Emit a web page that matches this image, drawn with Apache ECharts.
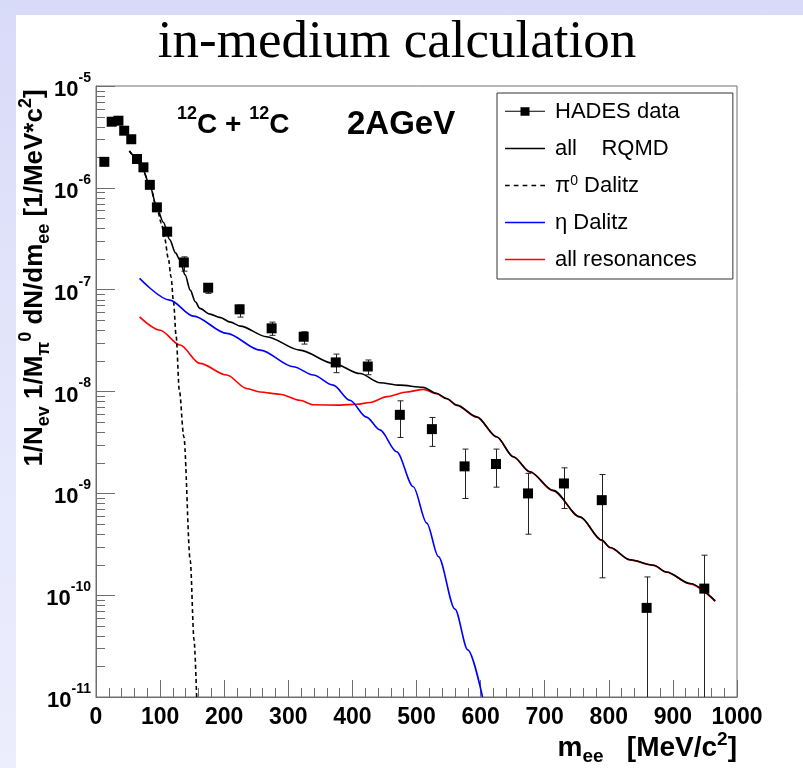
<!DOCTYPE html>
<html>
<head>
<meta charset="utf-8">
<script src="https://cdn.jsdelivr.net/npm/echarts/dist/echarts.min.js"></script>
<style>
html, body { margin: 0; padding: 0; width: 803px; height: 768px; overflow: hidden;
  background: linear-gradient(180deg, #d8dbf8 0%, #e4e6fb 50%, #eceefd 100%); }
#panel { position: absolute; left: 16px; top: 15px; right: 0; bottom: 0; background: #fff; }
#chart { position: absolute; left: 0; top: 0; width: 803px; height: 768px; }
</style>
</head>
<body>
<div id="panel"></div>
<div id="chart"></div>
<script>
// HADES dielectron spectrum, 12C + 12C at 2 AGeV (m_ee in MeV/c^2)
const hadesMass  = [13, 24.5, 35, 44, 55, 64, 74, 84, 95, 111, 137, 175, 224, 274, 324, 374, 424, 474, 524, 575, 624, 674, 730, 789, 859, 949];
const hadesYield = [1.80e-6, 4.46e-6, 4.56e-6, 3.64e-6, 3.0e-6, 1.92e-6, 1.59e-6, 1.07e-6, 6.43e-7, 3.71e-7, 1.85e-7, 1.045e-7, 6.41e-8, 4.17e-8, 3.45e-8, 1.93e-8, 1.76e-8, 5.9e-9, 4.27e-9, 1.84e-9, 1.94e-9, 9.98e-10, 1.25e-9, 8.57e-10, 7.5e-11, 1.16e-10];
const hadesHigh  = [1.86e-6, 4.6e-6, 4.7e-6, 3.75e-6, 3.1e-6, 1.98e-6, 1.64e-6, 1.11e-6, 6.7e-7, 3.9e-7, 2.1e-7, 1.135e-7, 7.06e-8, 4.8e-8, 3.86e-8, 2.33e-8, 2.04e-8, 8.1e-9, 5.56e-9, 2.72e-9, 2.72e-9, 1.57e-9, 1.78e-9, 1.53e-9, 1.51e-10, 2.47e-10];
const hadesLow   = [1.74e-6, 4.32e-6, 4.42e-6, 3.53e-6, 2.9e-6, 1.86e-6, 1.54e-6, 1.03e-6, 6.2e-7, 3.55e-7, 1.52e-7, 9.2e-8, 5.38e-8, 3.56e-8, 2.92e-8, 1.53e-8, 1.46e-8, 3.54e-9, 2.89e-9, 8.9e-10, 1.15e-9, 3.97e-10, 7.1e-10, 1.48e-10, 1e-11, 1e-11];

// RQMD model curves
const rqmdMass  = [52, 62, 73, 84, 95, 105, 115, 124, 131, 139, 147, 155, 162, 178, 193, 210, 225, 266, 318, 370, 412, 443, 474, 510, 531, 547, 563, 594, 625, 651, 677, 713, 755, 789, 802, 833, 870, 890, 927, 966];
const rqmdYield = [2.3e-6, 2.0e-6, 1.5e-6, 1.05e-6, 6.4e-7, 4.6e-7, 3.1e-7, 2.3e-7, 1.95e-7, 1.4e-7, 9.9e-8, 7.6e-8, 6.55e-8, 5.75e-8, 5.35e-8, 4.8e-8, 4.39e-8, 3.45e-8, 2.55e-8, 1.89e-8, 1.5e-8, 1.22e-8, 1.155e-8, 1.1e-8, 9.6e-9, 8.55e-9, 7.35e-9, 5.64e-9, 3.59e-9, 2.29e-9, 1.63e-9, 1.07e-9, 5.87e-10, 3.47e-10, 2.94e-10, 2.23e-10, 1.97e-10, 1.69e-10, 1.30e-10, 8.8e-11];

const pi0Mass  = [52, 62, 73, 84, 95, 102, 107, 113, 117, 121, 125, 130, 137, 147, 153, 157];
const pi0Yield = [2.3e-6, 2.0e-6, 1.5e-6, 1.05e-6, 6.3e-7, 4.5e-7, 3.2e-7, 2.0e-7, 1.34e-7, 7.5e-8, 3.5e-8, 1.03e-8, 3.6e-9, 2.2e-10, 3.6e-11, 1.0e-11];

const etaMass  = [68, 115, 152, 204, 256, 308, 339, 370, 396, 422, 443, 469, 495, 516, 534, 560, 580, 603];
const etaYield = [1.29e-7, 7.9e-8, 5.5e-8, 3.72e-8, 2.55e-8, 1.75e-8, 1.45e-8, 1.155e-8, 8.2e-9, 5.6e-9, 4.2e-9, 2.56e-9, 1.16e-9, 5.1e-10, 2.4e-10, 7.3e-11, 2.9e-11, 1.0e-11];

const resMass  = [68, 100, 131, 162, 204, 235, 256, 287, 318, 339, 381, 407, 428, 454, 485, 511, 531, 547, 563, 594, 625, 651, 677, 713, 755, 789, 802, 833, 870, 890, 927, 966];
const resYield = [5.4e-8, 4.0e-8, 2.86e-8, 1.89e-8, 1.45e-8, 1.07e-8, 9.9e-9, 9.4e-9, 8.2e-9, 7.4e-9, 7.35e-9, 7.5e-9, 7.8e-9, 8.9e-9, 9.9e-9, 1.05e-8, 9.5e-9, 8.5e-9, 7.3e-9, 5.6e-9, 3.57e-9, 2.28e-9, 1.62e-9, 1.06e-9, 5.85e-10, 3.45e-10, 2.93e-10, 2.22e-10, 1.96e-10, 1.68e-10, 1.29e-10, 8.7e-11];

// axis ranges
const xMin = 0, xMax = 1000, xStep = 100;
const yMin = 1e-11, yMax = 1e-5;

// log-axis minor tick positions (2..9 within each decade)
const yMinorTicks = [];
for (let e = -11; e < -5; e++) {
  for (let k = 2; k <= 9; k++) yMinorTicks.push(k * Math.pow(10, e));
}

const zip = (a, b) => a.map((v, i) => [v, b[i]]);
const axisGrey = '#6e6e6e';
const sans = 'Liberation Sans, Arial, sans-serif';

// legend glyphs: line with marker, solid line, dashed line
const iconData = 'path://M0,3.5L16,3.5L16,4.5L0,4.5Z M24,3.5L40,3.5L40,4.5L24,4.5Z M15.5,0L24.5,0L24.5,8.5L15.5,8.5Z';
const iconSolid = 'path://M0,0L40,0L40,1.6L0,1.6Z';
const iconDash = 'path://M0,0L4.5,0L4.5,1.6L0,1.6Z M8.5,0L13,0L13,1.6L8.5,1.6Z M17,0L21.5,0L21.5,1.6L17,1.6Z M25.5,0L30,0L30,1.6L25.5,1.6Z M34,0L38.5,0L38.5,1.6L34,1.6Z';

const chart = echarts.init(document.getElementById('chart'), null, { renderer: 'canvas' });

chart.setOption({
  animation: false,
  backgroundColor: 'transparent',
  grid: { left: 96, right: 66, top: 86, bottom: 71, containLabel: false, outerBoundsMode: 'none',
          show: true, borderColor: axisGrey, borderWidth: 1, backgroundColor: 'transparent' },
  xAxis: {
    type: 'value', min: xMin, max: xMax, interval: xStep,
    axisLine: { show: true, lineStyle: { color: axisGrey, width: 1 } },
    axisTick: { show: true, inside: true, length: 17, lineStyle: { color: axisGrey } },
    minorTick: { show: true, splitNumber: 5, length: 9, lineStyle: { color: axisGrey } },
    splitLine: { show: false },
    axisLabel: { color: '#000', fontSize: 23, fontWeight: 'bold', fontFamily: sans, margin: 9,
                 formatter: v => String(v) }
  },
  yAxis: {
    type: 'log', logBase: 10, min: yMin, max: yMax,
    axisLine: { show: true, lineStyle: { color: axisGrey, width: 1 } },
    axisTick: { show: true, inside: true, length: 19, lineStyle: { color: axisGrey } },
    splitLine: { show: false },
    axisLabel: {
      margin: 5,
      formatter: v => '{b|10}{s|' + Math.round(Math.log10(v)) + '}',
      rich: {
        b: { fontSize: 22, fontWeight: 'bold', fontFamily: sans, color: '#000', lineHeight: 30, verticalAlign: 'bottom' },
        s: { fontSize: 14, fontWeight: 'bold', fontFamily: sans, color: '#000', lineHeight: 16, verticalAlign: 'top' }
      }
    }
  },
  legend: {
    left: 497, top: 93, orient: 'vertical',
    padding: [7, 36, 8, 8], itemGap: 14, itemWidth: 40, itemHeight: 14,
    backgroundColor: '#fff', borderColor: '#333', borderWidth: 1, borderRadius: 0,
    textStyle: {
      fontSize: 22, fontFamily: sans, color: '#000', lineHeight: 23, padding: [0, 0, 0, 5],
      rich: {
        t: { fontSize: 22, fontFamily: sans, color: '#000', lineHeight: 23 },
        sup: { fontSize: 14, fontFamily: sans, color: '#000', lineHeight: 14, verticalAlign: 'top' }
      }
    },
    formatter: name => name === 'π0 Dalitz' ? '{t|π}{sup|0}{t| Dalitz}' : name,
    data: [
      { name: 'HADES data', icon: iconData },
      { name: 'all    RQMD', icon: iconSolid },
      { name: 'π0 Dalitz', icon: iconDash },
      { name: 'η Dalitz', icon: iconSolid },
      { name: 'all resonances', icon: iconSolid }
    ]
  },
  graphic: [
    { type: 'text', x: 397, y: 43, silent: true,
      style: { text: 'in-medium calculation', font: '53px "Liberation Serif", "Times New Roman", serif',
               fill: '#000', align: 'center', verticalAlign: 'middle' } },
    { type: 'text', x: 177, y: 122, silent: true,
      style: {
        text: '{s|12}{a|C + }{s|12}{a|C}', align: 'left', verticalAlign: 'middle',
        rich: {
          a: { fontSize: 28, fontWeight: 'bold', fontFamily: sans, fill: '#000', lineHeight: 34, verticalAlign: 'bottom' },
          s: { fontSize: 18, fontWeight: 'bold', fontFamily: sans, fill: '#000', lineHeight: 20, verticalAlign: 'top' }
        }
      } },
    { type: 'text', x: 347, y: 125, silent: true,
      style: { text: '2AGeV', align: 'left', verticalAlign: 'middle',
               font: 'bold 33px "Liberation Sans", Arial, sans-serif', fill: '#000' } },
    { type: 'text', x: 737, y: 748, silent: true,
      style: {
        text: '{a|m}{d|ee}{a|   [MeV/c}{u|2}{a|]}', align: 'right', verticalAlign: 'middle',
        rich: {
          a: { fontSize: 28, fontWeight: 'bold', fontFamily: sans, fill: '#000', lineHeight: 36, verticalAlign: 'middle' },
          d: { fontSize: 19, fontWeight: 'bold', fontFamily: sans, fill: '#000', lineHeight: 16, verticalAlign: 'bottom' },
          u: { fontSize: 19, fontWeight: 'bold', fontFamily: sans, fill: '#000', lineHeight: 16, verticalAlign: 'top' }
        }
      } },
    { type: 'text', x: 35, y: 278, rotation: Math.PI / 2, silent: true,
      style: {
        text: '{a|1/N}{d|ev}{a| 1/M}{d|π}{u|0}{a| dN/dm}{d|ee}{a| [1/MeV*c}{u|2}{a|]}',
        align: 'center', verticalAlign: 'middle',
        rich: {
          a: { fontSize: 26, fontWeight: 'bold', fontFamily: sans, fill: '#000', lineHeight: 36, verticalAlign: 'middle' },
          d: { fontSize: 18, fontWeight: 'bold', fontFamily: sans, fill: '#000', lineHeight: 16, verticalAlign: 'bottom' },
          u: { fontSize: 18, fontWeight: 'bold', fontFamily: sans, fill: '#000', lineHeight: 16, verticalAlign: 'top' }
        }
      } }
  ],
  series: [
    { name: 'all resonances', type: 'line', data: zip(resMass, resYield), symbol: 'none',
      smooth: 0.3, smoothMonotone: 'x', lineStyle: { color: '#ff0000', width: 1.6 }, itemStyle: { color: '#ff0000' } },
    { name: 'η Dalitz', type: 'line', data: zip(etaMass, etaYield), symbol: 'none',
      smooth: 0.3, smoothMonotone: 'x', lineStyle: { color: '#0000ff', width: 1.6 }, itemStyle: { color: '#0000ff' } },
    { name: 'π0 Dalitz', type: 'line', data: zip(pi0Mass, pi0Yield), symbol: 'none',
      smooth: 0.3, smoothMonotone: 'x', lineStyle: { color: '#000', width: 1.6, type: [4, 3] }, itemStyle: { color: '#000' } },
    { name: 'all    RQMD', type: 'line', data: zip(rqmdMass, rqmdYield), symbol: 'none',
      smooth: 0.3, smoothMonotone: 'x', lineStyle: { color: '#000', width: 1.6 }, itemStyle: { color: '#000' } },
    { name: 'errors', type: 'custom', silent: true, clip: true,
      data: hadesMass.map((m, i) => [m, hadesLow[i], hadesHigh[i]]),
      encode: { x: 0, y: [1, 2] },
      renderItem: (params, api) => {
        const x = api.value(0);
        const lo = api.coord([x, api.value(1)]);
        const hi = api.coord([x, api.value(2)]);
        const px = Math.round(lo[0]) + 0.5;
        const st = { stroke: '#222', lineWidth: 1 };
        const kids = [
          { type: 'line', shape: { x1: px, y1: lo[1], x2: px, y2: hi[1] }, style: st },
          { type: 'line', shape: { x1: px - 3, y1: hi[1], x2: px + 3, y2: hi[1] }, style: st }
        ];
        if (api.value(1) > yMin) kids.push({ type: 'line', shape: { x1: px - 3, y1: lo[1], x2: px + 3, y2: lo[1] }, style: st });
        return { type: 'group', children: kids };
      } },
    { name: 'HADES data', type: 'scatter', data: zip(hadesMass, hadesYield), symbol: 'rect', symbolSize: 10,
      itemStyle: { color: '#000', opacity: 1 }, z: 5 },
    { name: 'yMinor', type: 'custom', silent: true,
      data: yMinorTicks.map(v => [xMin, v]),
      encode: { x: 0, y: 1 },
      renderItem: (params, api) => {
        const p = api.coord([api.value(0), api.value(1)]);
        const py = Math.round(p[1]) + 0.5;
        return { type: 'line', shape: { x1: p[0], y1: py, x2: p[0] + 9, y2: py },
                 style: { stroke: axisGrey, lineWidth: 1 } };
      } }
  ]
});
</script>
</body>
</html>
